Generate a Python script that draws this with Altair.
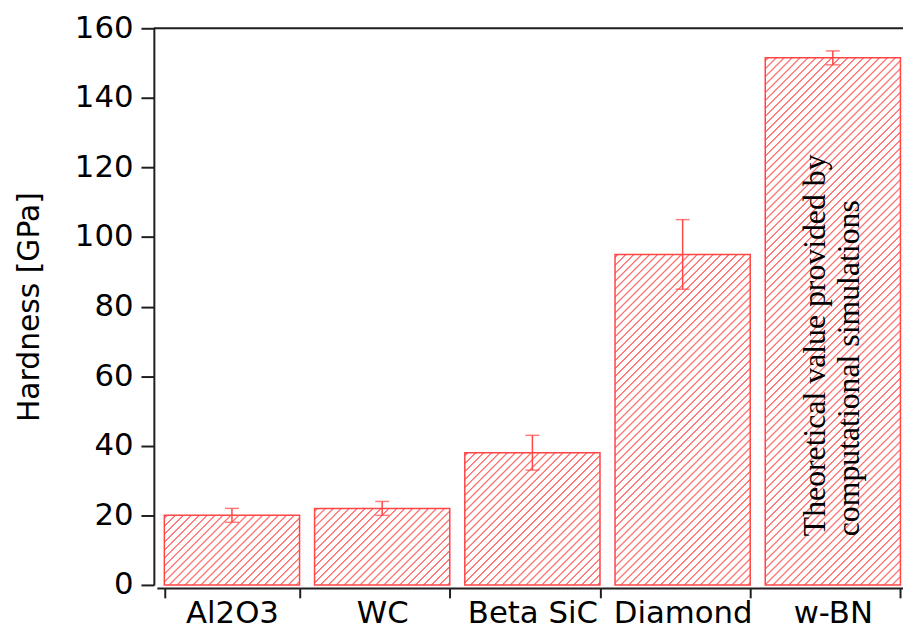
import altair as alt
import pandas as pd

# ---- data ----
materials = ["Al2O3", "WC", "Beta SiC", "Diamond", "w-BN"]
hardness = [20, 22, 38, 95, 151.5]
err_low = [18, 20, 33, 85, 149.5]
err_high = [22, 24, 43, 105, 153.5]
y_ticks = [0, 20, 40, 60, 80, 100, 120, 140, 160]
note_material = ["w-BN"]
note_y = [14]
note_text = ["Theoretical value provided by\ncomputational simulations"]

# ---- style / layout ----
W, H = 757, 561
PAD = {"left": 150, "top": 18, "right": -5, "bottom": 45}
Y_MAX = 160
P_IN, P_OUT = 0.1, 0.05
RED = "#ff4545"
HATCH = "#ff7272"
PERIOD = 8.0
AX = "#1e1e1e"
SANS = "DejaVu Sans"

df = pd.DataFrame({"material": materials, "hardness": hardness,
                   "low": err_low, "high": err_high})
note_df = pd.DataFrame({"material": note_material, "y": note_y, "text": note_text})

step = W / (len(materials) - P_IN + 2 * P_OUT)
bw = step * (1 - P_IN)


def hatch_fill(value):
    """Diagonal-stripe fill built as a linear gradient (style only)."""
    w = bw
    h = value / Y_MAX * H
    L = w + h
    s = L * w / (w * w + h * h)
    stops = [{"offset": 0.0, "color": "white"}]
    c = 3.0
    while c - 1.4 < L:
        for dc, col in [(-1.4, "white"), (-0.45, HATCH), (0.45, HATCH), (1.4, "white")]:
            off = min(max((c + dc) / L, 0.0), 1.0)
            if off >= stops[-1]["offset"]:
                stops.append({"offset": off, "color": col})
        c += PERIOD
    stops.append({"offset": 1.0, "color": "white"})
    return {"gradient": "linear", "x1": 0, "y1": 0, "x2": s, "y2": s * h / w,
            "stops": stops}


x_axis = alt.Axis(title=None, orient="bottom", offset=3, tickBand="extent",
                  tickSize=10, tickWidth=2, tickColor=AX, domainWidth=2,
                  domainColor=AX, labelFontSize=31, labelFont=SANS,
                  labelColor="black", labelPadding=1, labelAngle=0, grid=False)
y_axis = alt.Axis(title="Hardness [GPa]", values=y_ticks, offset=3, tickSize=13,
                  tickWidth=2, tickColor=AX, domainWidth=2, domainColor=AX,
                  labelFontSize=31, labelFont=SANS, labelColor="black",
                  labelPadding=8, titleFontSize=30, titleFont=SANS,
                  titleFontWeight="normal", titleColor="black", titlePadding=30,
                  grid=False)
x_scale = alt.Scale(domain=materials, paddingInner=P_IN, paddingOuter=P_OUT)
y_scale = alt.Scale(domain=[0, Y_MAX], nice=False, zero=True)


def X():
    return alt.X("material:N", sort=materials, scale=x_scale, axis=x_axis)


def Y(field):
    return alt.Y(field, scale=y_scale, axis=y_axis)


base = alt.Chart(df)
layers = []
for m, v in zip(materials, hardness):
    layers.append(
        base.transform_filter(alt.datum.material == m)
        .mark_bar(fill=hatch_fill(v), stroke=RED, strokeWidth=1.5)
        .encode(x=X(), y=Y("hardness:Q"))
    )

err_rule = base.mark_rule(color=RED, strokeWidth=1.5).encode(
    x=X(), y=Y("low:Q"), y2="high:Q")
cap_low = base.mark_tick(orient="horizontal", size=14, thickness=1.5,
                         color=RED).encode(x=X(), y=Y("low:Q"))
cap_high = base.mark_tick(orient="horizontal", size=14, thickness=1.5,
                          color=RED).encode(x=X(), y=Y("high:Q"))

note = alt.Chart(note_df).mark_text(
    angle=270, align="left", baseline="middle", font="Liberation Serif",
    fontSize=32, lineHeight=34, lineBreak="\n", color="black", dy=-18
).encode(x=X(), y=Y("y:Q"), text="text:N")

frame_top = alt.Chart(df.head(1)).mark_rule(color=AX, strokeWidth=2).encode(
    x=alt.value(-3), x2=alt.value(W), y=alt.value(0))

chart = alt.layer(*layers, err_rule, cap_low, cap_high, note, frame_top).properties(
    width=W, height=H,
    autosize=alt.AutoSizeParams(type="none"),
    padding=PAD,
    background="white",
).configure_view(stroke=None)

chart.save("out.html", embed_options={"renderer": "svg", "actions": False})
